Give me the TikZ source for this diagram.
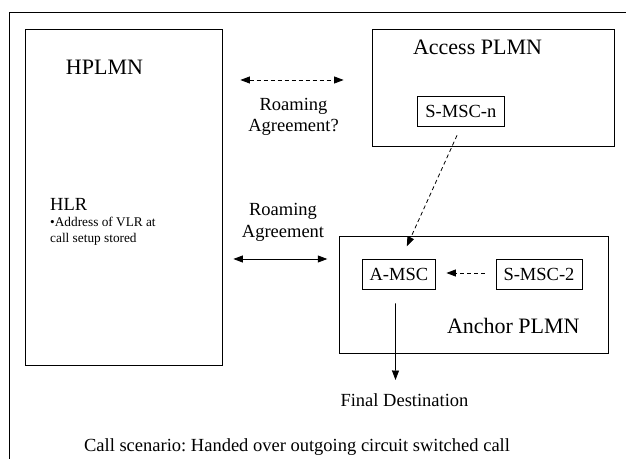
\documentclass[tikz,border=0pt]{standalone}
\usepackage{fontspec}
\setmainfont{Liberation Serif}
\usetikzlibrary{arrows.meta,calc}
\frenchspacing
\begin{document}
\begin{tikzpicture}[x=1bp,y=-1bp,
  box/.style={draw=black,line width=0.8bp,inner sep=0pt,rectangle},
  big/.style={font=\fontsize{22bp}{26bp}\selectfont,inner sep=0pt,anchor=base},
  mid/.style={font=\fontsize{18.5bp}{21.5bp}\selectfont,inner sep=0pt},
  conn/.style={line width=0.8bp,-{Triangle[length=9.5bp,width=7bp]}},
  biconn/.style={line width=0.8bp,{Triangle[length=9.5bp,width=7bp]}-{Triangle[length=9.5bp,width=7bp]}},
  dsh/.style={dash pattern=on 4bp off 3bp}]
\useasboundingbox (0,0) rectangle (626,459);
% outer frame
\draw[line width=0.8bp] (626,12.3) -- (9,12.3) -- (9,459);
% boxes
\node[box,minimum width=196.3bp,minimum height=335.7bp] (hplmn) at (123.85,197.15) {};
\node[box,minimum width=241.6bp,minimum height=117.4bp] (access) at (493.5,88) {};
\node[box,minimum width=269bp,minimum height=116.8bp] (anchor) at (473.8,295.1) {};
\node[box,mid,minimum width=86.3bp,minimum height=29.8bp] (smscn) at (460.85,111.6) {S-MSC-n};
\node[box,mid,minimum width=73.7bp,minimum height=30bp] (amsc) at (398.85,274) {A-MSC};
\node[box,mid,minimum width=86bp,minimum height=30bp] (smsc2) at (539,274) {S-MSC-2};
% titles
\node[big] (thplmn) at (104.5,75) {HPLMN};
\node[big] (taccess) at (477.5,55) {Access PLMN};
\node[big] (tanchor) at (513.3,333.3) {Anchor PLMN};
% HLR text
\node[inner sep=0pt,anchor=north west,align=left,font=\fontsize{13.3bp}{15.7bp}\selectfont] (hlr) at (50,198.5)
  {{\fontsize{18.5bp}{15.7bp}\selectfont HLR}\\•Address of VLR at\\call setup stored};
% roaming labels
\node[mid,align=center,anchor=north] (roam1) at (293.5,97.8) {Roaming\\Agreement?};
\node[mid,align=center,anchor=north] (roam2) at (283,203.5) {Roaming\\Agreement};
% final destination and caption
\node[mid,anchor=base] (fd) at (404.5,406.7) {Final Destination};
\node[mid,anchor=base] (cap) at (297,451.7) {Call scenario: Handed over outgoing circuit switched call};
% connectors
\coordinate (ytop) at (0,80);
\coordinate (ybot) at (0,259);
\coordinate (fdtip) at (395.5,380);
\draw[biconn,dsh,shorten <=18bp,shorten >=28.7bp] (hplmn.east |- ytop) -- (access.west |- ytop);
\draw[biconn,shorten <=11bp,shorten >=11.6bp] (hplmn.east |- ybot) -- (anchor.west |- ybot);
\draw[conn,dsh,shorten <=9.3bp,shorten >=13.5bp] (smscn.south) -- ([xshift=2.4bp]amsc.north);
\draw[conn,dsh,shorten <=11bp,shorten >=10.3bp] ([yshift=1bp]smsc2.west) -- ([yshift=1bp]amsc.east);
\draw[conn,shorten <=14bp] ([xshift=-3.3bp]amsc.south) -- (fdtip);
\end{tikzpicture}
\end{document}
